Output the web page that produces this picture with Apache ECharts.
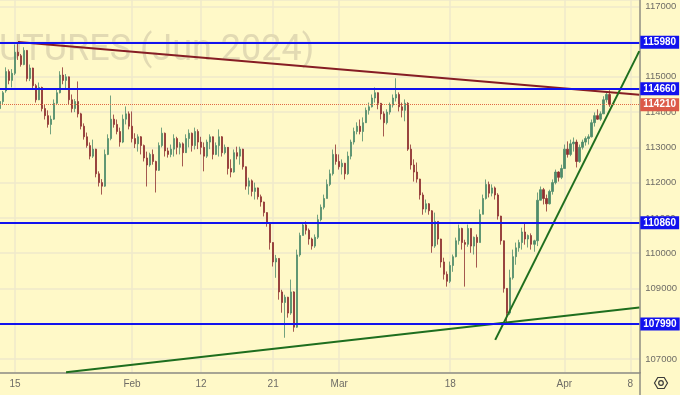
<!DOCTYPE html>
<html><head><meta charset="utf-8">
<script src="https://cdn.jsdelivr.net/npm/echarts@6/dist/echarts.min.js"></script>
<style>html,body{margin:0;padding:0;background:#fff9c8;} #c{width:680px;height:395px;}</style>
</head><body><div id="c"></div>
<script>
// [open, close, low, high]
const janBars = [
[114100,114300,113930,114450],[114300,114550,114220,114600],[114600,115150,114550,115270],[115150,114900,114790,115210],
[114900,115100,114700,115220],[115100,115700,115050,115920],[115700,115600,115480,115990],[115600,115350,115290,115650],
[115350,115750,115330,115840],[115750,114950,114870,115760],[114950,115250,114880,115350],[115250,114750,114640,115260],
[114750,114350,114270,114800],[114350,114700,114340,114840],[114700,114100,114020,114720],[114100,113900,113790,114220],
[113900,113650,113560,114050],[113650,113800,113370,113900],[113800,114250,113780,114360],[114250,114550,114200,114640],
[114550,115050,114530,115160],[115050,114900,114790,115270],[114900,115000,114650,115080],[115000,114350,114220,115010],
[114350,114100,113990,114500],[114100,114300,114000,114370],[114300,113950,113850,114870],[113950,113600,113510,113980],
[113600,113300,113220,113680],[113300,113050,112990,113420],[113050,112750,112660,113140],[112750,112950,112700,113220],
[112950,112250,112150,112960],[112250,112000,111890,112320],[112000,111900,111660,112100],[111900,112800,111880,112940],
[112800,113250,112780,113370],[113250,113800,113200,114470],[113800,113650,113560,113930],[113650,113450,113370,113790],
[113450,113150,113020,113560],[113150,113800,113120,113930],[113800,113950,113650,114160],[113950,113600,113510,114020]
];
const febBars = [
[113600,113250,113140,114020],[113250,113100,112980,113400],[113100,113300,112880,113370],[113300,113050,112800,113320],
[113050,112700,112600,113080],[112700,112500,111890,112880],[112500,112800,112450,112850],[112800,112600,112510,112940],
[112600,112350,111720,112620],[112350,113050,112330,113140],[113050,113400,113000,113560],[113400,112900,112740,113420],
[112900,112800,112710,112990],[112800,112950,112720,113080],[112950,113250,112740,113370],[113250,113000,112800,113300],
[113000,113100,112800,113150],[113100,112850,112460,113140],[112850,113250,112840,113370],[113250,113400,113000,113510],
[113400,113050,112880,113420],[113050,113450,112940,113560],[113450,113150,112950,113510],[113150,113000,112800,113300],
[113000,112750,112320,113140],[112750,113150,112700,113220],[113150,113300,112950,113370],[113300,112800,112660,113310],
[112800,113050,112780,113140],[113050,113300,112740,113510],[113300,112850,112740,113320],[112850,113000,112800,113080],
[113000,112400,112230,113010],[112400,112300,112150,112660],[112300,112850,112280,112940],[112850,112750,112660,113020],
[112750,112950,112510,113020],[112950,112450,112370,112960],[112450,111900,111800,112460],[111900,112050,111660,112140],
[112050,111750,111610,112090],[111750,111850,111520,112000],[111850,111600,111520,111860],[111600,111450,111320,111660],
[111450,111150,111040,111460],[111150,110850,110750,111160],[110850,110300,110100,110860],[110300,109750,109620,110310],
[109750,109850,109300,109950],[109850,108900,108680,109860],[108900,108600,108310,108960],[108600,108750,107600,108820],
[108750,108300,108170,108760],[108300,108900,108250,109250],[108900,107900,107770,108920],[107900,109950,107880,110100],
[109950,110500,109900,110580],[110500,110800,110500,110870],[110800,110650,110530,110900],[110650,110400,110240,110700],
[110400,110200,110100,110440],[110200,110450,110150,110530],[110450,110950,110400,111090],[110950,111300,110900,111380],
[111300,111550,111240,111660],[111550,111950,111550,112090],[111950,112250,111900,112370],[112250,112800,112200,112940],
[112800,112600,112510,113080]
];
const marBars = [
[112600,112450,112370,112800],[112450,112550,112230,112660],[112550,112250,112090,112560],[112250,112750,112220,112880],
[112750,113150,112660,113220],[113150,113450,113080,113560],[113450,113600,113370,113710],[113600,113450,113370,113790],
[113450,113700,113170,113850],[113700,114050,113690,114130],[114050,114150,113930,114270],[114150,114400,114130,114500],
[114400,114550,114270,114700],[114550,114250,114080,114560],[114250,113950,113790,114260],[113950,113700,113310,114020],
[113700,114000,113650,114080],[114000,114200,113930,114270],[114200,114400,114130,114500],[114400,114500,114300,114960],
[114500,114150,114020,114560],[114150,114050,113850,114270],[114050,114250,113740,114360],[114250,112950,112900,114280],
[112950,112500,112370,113080],[112500,112300,112030,112660],[112300,112100,112000,112570],[112100,111650,111520,112110],
[111650,111250,111090,111720],[111250,111400,111150,111520],[111400,111200,111090,111420],[111200,110200,110010,111220],
[110200,110900,110150,111150],[110900,110400,110240,110900],[110400,109750,109590,110410],[109750,109400,109250,109870],
[109400,109200,109050,109480],[109200,109650,109150,109760],[109650,109900,109470,109960],[109900,110350,109880,110440],
[110350,110700,110240,110810],[110700,110300,110100,110720],[110300,110250,109050,110380],[110250,110700,110180,110810],
[110700,110200,110010,110710],[110200,110450,109960,110470],[110450,110300,109590,110530],[110300,111100,110300,111240],
[111100,111550,111100,111660],[111550,111950,111520,112090],[111950,111700,111580,112030],[111700,111850,111610,111950],
[111850,111650,111520,111890],[111650,111050,110950,111700],[111050,110350,110240,111060],[110350,109000,108880,110360],
[109000,108300,108000,109010],[108300,109300,108250,109530],[109300,109900,109250,110100],[109900,110150,109670,110300],
[110150,110300,110040,110380],[110300,110600,110100,110720],[110600,110400,110240,110870],[110400,110500,110160,110530],
[110500,110250,110100,110560],[110250,110350,110040,110380],[110350,111500,110200,111720],[111500,111800,111500,111890],
[111800,111550,111380,111850],[111550,111400,111180,111660],[111400,111750,111380,111800],[111750,112000,111660,112090],
[112000,112300,111950,112370],[112300,112150,112030,112320],[112150,112400,112100,112510]
];
const aprBars = [
[112400,112950,112400,113080],[112950,112800,112710,113170],[112800,113100,112750,113220],[113100,113150,112880,113280],
[113150,112600,112430,113220],[112600,113000,112560,113080],[113000,113150,112940,113220],[113150,113250,113050,113310],
[113250,113300,113080,113370],[113300,113700,113280,113790],[113700,113900,113590,113990],[113900,113800,113780,114080],
[113800,113950,113750,114020],[113950,114350,113950,114450],[114350,114500,114270,114560],[114500,114210,114150,114620]
];
const xTickIdx = [5, 44, 67, 91, 113, 150, 188, 210];
const xTickLabels = ['15', 'Feb', '12', '21', 'Mar', '18', 'Apr', '8'];
const levels = [115980, 114660, 110860, 107990];
const lastPrice = 114210;
const resistanceLine = [[6, 115990], [213, 114490]];
const supportLine = [[22, 106620], [213, 108460]];
const trendLine = [[165, 107540], [213, 115730]];
const slotCount = 214;

const bars = janBars.concat(febBars, marBars, aprBars);
const cats = Array.from({length: slotCount}, (_, i) => String(i));
const labelOf = {};
xTickIdx.forEach((k, j) => { labelOf[k] = xTickLabels[j]; });
const isTick = (i) => labelOf[i] !== undefined;

const chart = echarts.init(document.getElementById('c'), null, {renderer: 'canvas'});
const gridCol = '#efe9cb';
const axisCol = '#8f8d82';
const txtCol = '#6e6c66';

function trend(data, color) {
  return {type: 'line', data: data, symbol: 'none', showSymbol: false, silent: true, z: 4,
    lineStyle: {color: color, width: 2}, animation: false};
}

chart.setOption({
  backgroundColor: '#fff9c8',
  animation: false,
  grid: {left: 0, right: 40, top: 0, bottom: 22},
  xAxis: {
    type: 'category', data: cats, boundaryGap: false,
    axisLine: {lineStyle: {color: axisCol, width: 1.5}},
    axisTick: {show: false},
    axisLabel: {interval: (i) => isTick(i), formatter: (v, i) => labelOf[i] || '', color: txtCol,
      fontSize: 10, margin: 6, fontFamily: 'Liberation Sans'},
    splitLine: {show: true, interval: (i) => isTick(i), lineStyle: {color: gridCol, width: 1.5}}
  },
  yAxis: {
    type: 'value', position: 'right', min: 106600, max: 117180, splitNumber: 10,
    minInterval: 1000, maxInterval: 1000,
    axisLine: {show: true, lineStyle: {color: axisCol, width: 1.5}},
    axisTick: {show: false},
    axisLabel: {color: txtCol, fontSize: 9.5, margin: 6, fontFamily: 'Liberation Sans',
      showMinLabel: false, showMaxLabel: false, formatter: (v) => String(v)},
    splitLine: {lineStyle: {color: gridCol, width: 1.5}}
  },
  graphic: [
    {type: 'text', z: 1, silent: true, style: {x: -21, y: 51, text: 'FUTURES (Jun 2024)',
      font: '36px Roboto', fill: '#e2dab3', verticalAlign: 'middle'}},
    {type: 'line', z: 10, silent: true, shape: {x1: 640, y1: 372, x2: 640, y2: 395},
      style: {stroke: axisCol, lineWidth: 1.5}},
    {type: 'polygon', z: 10, silent: true, shape: {points: [[654.5,383],[657.8,377.5],[664.2,377.5],[667.5,383],[664.2,388.5],[657.8,388.5]]},
      style: {fill: 'none', stroke: '#3a3a3a', lineWidth: 1.2}},
    {type: 'circle', z: 10, silent: true, shape: {cx: 661, cy: 383, r: 2.3},
      style: {fill: 'none', stroke: '#3a3a3a', lineWidth: 1.2}}
  ],
  series: [
    {
      type: 'candlestick', data: bars, barWidth: 2, z: 2,
      itemStyle: {color: '#4f8c6b', color0: '#8e3030', borderColor: '#4f8c6b', borderColor0: '#8e3030', borderWidth: 0.8},
      markLine: {
        silent: true, symbol: ['none', 'none'], animation: false,
        label: {show: true, position: 'end', distance: 1, color: '#ffffff', fontWeight: 'bold', fontSize: 10,
          fontFamily: 'Liberation Sans', padding: [2, 3, 1, 3], lineHeight: 10,
          formatter: (p) => String(p.value)},
        data: levels.map((v) => ({yAxis: v, lineStyle: {color: '#1212ee', width: 2, type: 'solid'},
          label: {backgroundColor: '#1212ee'}}))
          .concat([{yAxis: lastPrice, lineStyle: {color: '#e06a45', width: 1, type: 'dotted'},
            label: {backgroundColor: '#dc5a48'}}])
      }
    },
    trend(resistanceLine, '#861d24'),
    trend(supportLine, '#1e6e1e'),
    trend(trendLine, '#1e6e1e')
  ]
});
</script></body></html>
